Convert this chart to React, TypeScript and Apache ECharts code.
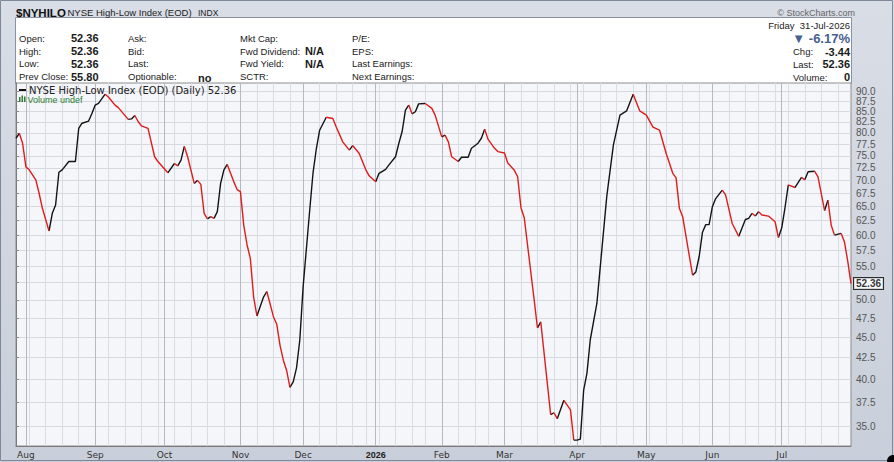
import React, { useEffect, useRef } from 'react';
import * as echarts from 'echarts';

// ---- trading calendar (NYSE) ----
const calendarStart = '2025-07-29';
const calendarEnd = '2026-07-31';
const holidays = ['2025-09-01', '2025-11-27', '2025-12-25', '2026-01-01', '2026-01-19', '2026-02-16', '2026-04-03', '2026-05-25', '2026-06-19', '2026-07-03'];

// ---- tick labels ----
const monthLabels = ['Aug', 'Sep', 'Oct', 'Nov', 'Dec', '2026', 'Feb', 'Mar', 'Apr', 'May', 'Jun', 'Jul'];
const yTicks = [35, 37.5, 40, 42.5, 45, 47.5, 50, 52.5, 55, 57.5, 60, 62.5, 65, 67.5, 70, 72.5, 75, 77.5, 80, 82.5, 85, 87.5, 90];
const yAxisMin = 33.15;
const yAxisMax = 92.05;
const pctChangeText = '-6.17%';

// ---- series: trading-day number (0 = 29 Jul 2025) and index value ----
const dayIdx = [0, 1, 2, 3, 4, 6, 7, 8, 10, 11, 12, 13, 14, 16, 18, 19, 20, 22, 23, 24, 25, 27, 28, 30, 31, 34, 35, 36, 37, 38, 40, 42, 43, 46, 48, 49, 50, 51, 52, 54, 55, 56, 57, 58, 59, 60, 61, 62, 63, 64, 66, 67, 68, 69, 70, 71, 72, 73, 75, 76, 78, 79, 80, 81, 82, 83, 84, 85, 86, 87, 89, 90, 91, 92, 94, 96, 97, 99, 101, 102, 104, 106, 107, 109, 110, 112, 113, 115, 116, 117, 118, 119, 120, 121, 122, 124, 126, 127, 129, 130, 131, 132, 134, 135, 137, 138, 140, 141, 142, 143, 145, 146, 148, 149, 151, 152, 153, 154, 157, 158, 159, 162, 163, 164, 166, 168, 169, 170, 171, 172, 173, 174, 176, 179, 181, 183, 185, 187, 189, 191, 193, 195, 197, 199, 200, 201, 202, 205, 206, 207, 208, 209, 210, 211, 212, 214, 215, 217, 219, 221, 222, 223, 224, 225, 226, 228, 230, 231, 232, 233, 234, 236, 238, 239, 240, 242, 243, 245, 246, 247, 248, 250, 251, 252, 253];
const values = [78.8, 79.9, 77.7, 72.7, 72.1, 70.1, 67.5, 64.7, 60.7, 63.8, 65.3, 71.6, 72.1, 73.8, 73.8, 81.0, 82.2, 82.7, 84.5, 86.5, 86.9, 89.2, 88.5, 86.5, 85.9, 83.1, 83.2, 84.0, 82.6, 81.6, 81.0, 74.8, 73.8, 71.5, 73.4, 72.9, 74.1, 77.0, 74.8, 69.4, 70.0, 69.2, 63.8, 62.8, 63.2, 62.9, 64.1, 69.4, 72.1, 73.2, 69.7, 68.2, 67.8, 61.7, 58.4, 56.2, 50.4, 47.8, 50.4, 51.2, 47.7, 46.7, 44.0, 42.2, 41.0, 39.1, 39.7, 41.3, 44.7, 51.9, 64.4, 71.5, 76.5, 80.6, 83.6, 83.3, 81.4, 78.0, 76.2, 77.2, 75.5, 72.1, 70.9, 69.7, 71.4, 72.2, 73.1, 74.8, 77.7, 80.3, 85.3, 86.5, 84.4, 84.9, 86.8, 86.9, 85.7, 84.1, 79.1, 79.5, 78.0, 74.8, 73.8, 74.7, 74.7, 76.6, 77.7, 78.8, 80.8, 78.6, 76.6, 75.9, 75.6, 73.5, 72.0, 70.7, 64.8, 63.0, 50.0, 46.2, 47.0, 36.2, 36.4, 35.8, 37.7, 36.7, 33.7, 33.7, 33.8, 38.8, 40.7, 44.7, 49.5, 66.9, 77.3, 84.1, 85.1, 89.2, 85.1, 84.1, 81.3, 80.6, 75.5, 71.4, 70.5, 64.7, 63.2, 53.6, 54.1, 56.5, 60.5, 61.8, 61.8, 65.0, 66.5, 68.1, 67.2, 62.0, 59.8, 62.7, 62.9, 63.8, 63.3, 64.1, 63.5, 63.3, 62.3, 59.6, 61.2, 64.8, 69.1, 68.6, 70.6, 70.1, 71.7, 71.8, 70.7, 64.3, 66.2, 61.7, 60.0, 60.3, 58.9, 55.8, 52.36];

function buildCalendar() {
  const days: { date: string; dow: number; month: number }[] = [];
  const start = Date.parse(calendarStart + 'T00:00:00Z');
  const end = Date.parse(calendarEnd + 'T00:00:00Z');
  for (let t = start; t <= end; t += 86400000) {
    const d = new Date(t);
    const dow = d.getUTCDay();
    const iso = d.toISOString().slice(0, 10);
    if (dow === 0 || dow === 6 || holidays.includes(iso)) continue;
    days.push({ date: iso, dow, month: d.getUTCMonth() });
  }
  const monthStarts: number[] = [];
  const weekStarts: number[] = [];
  for (let i = 1; i < days.length; i++) {
    if (days[i].month !== days[i - 1].month) monthStarts.push(i);
    else if (days[i].dow < days[i - 1].dow) weekStarts.push(i);
  }
  return { days, monthStarts, weekStarts };
}

const SANS = '"Liberation Sans", Arial, sans-serif';
const DEJ = '"DejaVu Sans", sans-serif';

function txt(x: number, y: number, text: string, font: string, fill = '#1a1a1a', align = 'left') {
  return {
    type: 'text', x, y, silent: true,
    style: { text, font, fill, textAlign: align, align, textVerticalAlign: 'middle', verticalAlign: 'middle' },
  };
}

export default function App() {
  const ref = useRef<HTMLDivElement>(null);
  useEffect(() => {
    document.body.style.margin = '0';
    if (!ref.current) return;
    const chart = echarts.init(ref.current, undefined, { renderer: 'svg' });
    const { days, monthStarts, weekStarts } = buildCalendar();
    const lastIdx = days.length - 1;
    const n = values.length;
    const last = values[n - 1];
    const prevClose = values[n - 2];
    const chg = last - prevClose;

    const pts = dayIdx.map((d, i) => [d, Math.log(values[i])]);
    const up: any[] = [];
    const down: any[] = [];
    let prev = '';
    for (let i = 0; i < pts.length - 1; i++) {
      const dir = values[i + 1] >= values[i] ? 'up' : 'down';
      const arr = dir === 'up' ? up : down;
      if (dir !== prev) {
        if (arr.length) arr.push([pts[i][0], '-']);
        arr.push(pts[i]);
      }
      arr.push(pts[i + 1]);
      prev = dir;
    }

    const yTickLn = yTicks.map((v) => Math.log(v));
    const yLabelLn = yTicks.filter((v) => Math.abs(Math.log(v) - Math.log(last)) > 0.02).map((v) => Math.log(v));

    const labelX = 19, valX = 71, c2 = 128, c2v = 198, c3 = 240, c3v = 305, c4 = 352;
    const rows = [38, 51, 63.5, 76.5];
    const L = '9.5px ' + SANS;
    const B = 'bold 11px ' + SANS;

    const graphic: any[] = [
      { type: 'rect', shape: { x: 0.5, y: 0.5, width: 892, height: 460 }, style: { fill: 'none', stroke: '#7f8899', lineWidth: 1 }, silent: true },
      { type: 'rect', shape: { x: 15.5, y: 17.5, width: 836, height: 66 }, style: { fill: '#ffffff', stroke: '#8a92a1', lineWidth: 1 }, silent: true, z: -1 },
      txt(16, 12.5, '$NYHILO', 'bold 11.5px ' + SANS, '#111'),
      txt(67.5, 12.5, 'NYSE High-Low Index (EOD)', '9.5px ' + SANS, '#222'),
      txt(198, 13, 'INDX', '8.5px ' + SANS, '#222'),
      txt(855, 12.5, '\u00A9 StockCharts.com', '9px ' + SANS, '#666', 'right'),
      txt(labelX, rows[0], 'Open:', L), txt(valX, rows[0], last.toFixed(2), B),
      txt(labelX, rows[1], 'High:', L), txt(valX, rows[1], last.toFixed(2), B),
      txt(labelX, rows[2], 'Low:', L), txt(valX, rows[2], last.toFixed(2), B),
      txt(labelX, rows[3], 'Prev Close:', L), txt(valX, rows[3], prevClose.toFixed(2), B),
      txt(c2, rows[0], 'Ask:', L), txt(c2, rows[1], 'Bid:', L), txt(c2, rows[2], 'Last:', L),
      txt(c2, rows[3], 'Optionable:', L), txt(c2v, rows[3] + 1, 'no', B),
      txt(c3, rows[0], 'Mkt Cap:', L), txt(c3, rows[1], 'Fwd Dividend:', L), txt(c3v, rows[1], 'N/A', B),
      txt(c3, rows[2], 'Fwd Yield:', L), txt(c3v, rows[2], 'N/A', B), txt(c3, rows[3], 'SCTR:', L),
      txt(c4, rows[0], 'P/E:', L), txt(c4, rows[1], 'EPS:', L), txt(c4, rows[2], 'Last Earnings:', L), txt(c4, rows[3], 'Next Earnings:', L),
      txt(850, 25, 'Friday  31-Jul-2026', L, '#222', 'right'),
      txt(850, 38.5, '\u25BC ' + pctChangeText, 'bold 13px ' + SANS, '#46608f', 'right'),
      txt(793, 51.5, 'Chg:', L), txt(850, 51.5, chg.toFixed(2), B, '#1a1a1a', 'right'),
      txt(793, 64, 'Last:', L), txt(850, 64, last.toFixed(2), B, '#1a1a1a', 'right'),
      txt(793, 77, 'Volume:', L), txt(850, 77, '0', B, '#1a1a1a', 'right'),
      { type: 'line', shape: { x1: 19, y1: 90, x2: 26, y2: 90 }, style: { stroke: '#111', lineWidth: 2 }, silent: true, z: 20 },
      txt(29, 90, 'NYSE High-Low Index (EOD) (Daily) ' + last.toFixed(2), '10px ' + DEJ, '#222'),
      { type: 'rect', shape: { x: 19, y: 97, width: 1.5, height: 5 }, style: { fill: '#2e7d32' }, silent: true, z: 20 },
      { type: 'rect', shape: { x: 21.5, y: 95.5, width: 1.5, height: 6.5 }, style: { fill: '#2e7d32' }, silent: true, z: 20 },
      { type: 'rect', shape: { x: 24, y: 96.5, width: 1.5, height: 5.5 }, style: { fill: '#2e7d32' }, silent: true, z: 20 },
      txt(27.5, 99.5, 'Volume undef', '9px ' + SANS, '#2e7d32'),
      { type: 'circle', shape: { cx: 893, cy: 461, r: 6 }, style: { fill: '#000' }, silent: true },
    ];
    graphic.forEach((g) => { if (g.z === undefined) g.z = 20; });

    chart.setOption({
      animation: false,
      backgroundColor: new echarts.graphic.LinearGradient(0, 0, 0, 1, [
        { offset: 0, color: '#d9dde6' },
        { offset: 1, color: '#c9cfda' },
      ]),
      grid: { left: 16, right: 43, top: 83, bottom: 16, show: true, backgroundColor: '#f5f6fa', borderColor: '#8c8c8c', borderWidth: 1, containLabel: false },
      xAxis: [
        {
          type: 'value', min: 0, max: lastIdx, position: 'bottom', z: 1,
          axisLine: { show: true, onZero: false, lineStyle: { color: '#7a7a7a' } },
          axisTick: { show: false, customValues: monthStarts },
          axisLabel: {
            customValues: monthStarts, margin: 4, fontSize: 9, color: '#333', fontFamily: DEJ,
            formatter: (v: number) => {
              const k = monthStarts.indexOf(Math.round(v));
              const s = k >= 0 ? monthLabels[k] : '';
              return /^\d+$/.test(s) ? '{b|' + s + '}' : s;
            },
            rich: { b: { fontWeight: 'bold', fontSize: 9, fontFamily: SANS, color: '#222' } },
          },
          splitLine: { show: true, lineStyle: { color: '#b3b8c2', width: 1 } },
        },
        {
          type: 'value', min: 0, max: lastIdx, position: 'top',
          axisLine: { show: false }, axisLabel: { show: false },
          axisTick: { show: false, customValues: weekStarts },
          splitLine: { show: true, lineStyle: { color: '#d9dce3', width: 1 } },
        },
      ],
      yAxis: {
        type: 'value', position: 'right', min: Math.log(yAxisMin), max: Math.log(yAxisMax),
        axisLine: { show: true, lineStyle: { color: '#7a7a7a' } },
        axisTick: { show: true, length: 3, customValues: yTickLn, lineStyle: { color: '#8a8a8a' } },
        axisLabel: {
          customValues: yLabelLn, margin: 5, fontSize: 10, color: '#555', fontFamily: SANS,
          formatter: (v: number) => Math.exp(v).toFixed(1),
        },
        splitLine: { show: true, lineStyle: { color: '#d6d9e0', width: 1 } },
      },
      series: [
        { type: 'line', name: 'up', data: up, symbol: 'none', showSymbol: false, connectNulls: false, lineStyle: { color: '#141414', width: 1.4 }, z: 3 },
        { type: 'line', name: 'down', data: down, symbol: 'none', showSymbol: false, connectNulls: false, lineStyle: { color: '#e01b1b', width: 1.4 }, z: 3 },
        {
          type: 'scatter', data: [[dayIdx[n - 1], Math.log(last)]], symbolSize: 2, itemStyle: { color: 'rgba(0,0,0,0)' }, z: 10, clip: false,
          label: {
            show: true, position: 'right', distance: 2, formatter: last.toFixed(2), fontSize: 10, fontWeight: 'bold', color: '#000',
            fontFamily: SANS, backgroundColor: '#ffffff', borderColor: '#000', borderWidth: 1, padding: [1, 2, 0, 2],
          },
        },
      ],
      graphic,
    });
    return () => chart.dispose();
  }, []);
  return <div ref={ref} style={{ width: 894, height: 462 }} />;
}
